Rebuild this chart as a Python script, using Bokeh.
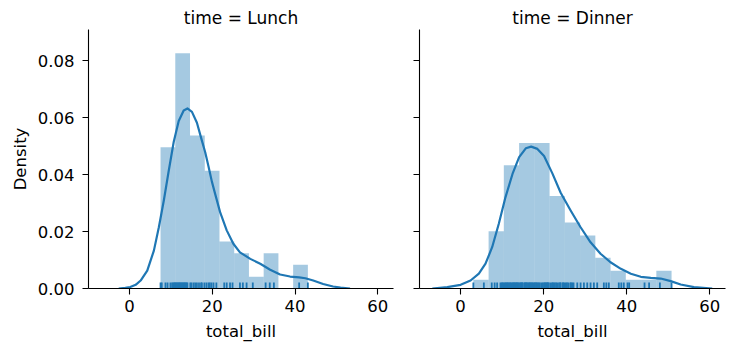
from bokeh.plotting import figure
from bokeh.layouts import row
from bokeh.models import FixedTicker, NumeralTickFormatter, Range1d
from bokeh.embed import file_html
from bokeh.resources import INLINE

# ---------------- data ----------------
panel_titles = ["time = Lunch", "time = Dinner"]

lunch_edges = [7.51, 11.07, 14.63, 18.19, 21.75, 25.31, 28.87, 32.43, 35.99, 39.55, 43.11]
lunch_density = [0.0496, 0.0826, 0.0537, 0.0413, 0.0165, 0.0124, 0.0041, 0.0124, 0.0, 0.0083]

dinner_edges = [3.07, 6.74, 10.41, 14.09, 17.76, 21.43, 25.10, 28.78, 32.45, 36.12,
                39.79, 43.47, 47.14, 50.81]
dinner_density = [0.0031, 0.0201, 0.0433, 0.0511, 0.0511, 0.0325, 0.0232, 0.0186,
                  0.0108, 0.0062, 0.0031, 0.0031, 0.0062]

lunch_kde_x = [-2.6, -1.0, 0.2, 1.5, 2.7, 4.3, 5.9, 7.1, 8.3, 9.5, 10.7, 11.9, 13.1, 14.0,
               15.1, 16.3, 17.5, 18.3, 19.1, 19.9, 20.7, 21.9, 23.5, 25.1, 26.7, 29.2,
               31.6, 34.0, 36.4, 38.8, 41.0, 42.5, 44.4, 46.8, 49.2, 51.0, 53.3]
lunch_kde_y = [0.0, 0.0002, 0.0005, 0.0013, 0.0028, 0.0063, 0.0133, 0.0215, 0.0309,
               0.0414, 0.0515, 0.0588, 0.0625, 0.0632, 0.0620, 0.0582, 0.0519, 0.0478,
               0.0428, 0.0376, 0.0332, 0.0268, 0.0204, 0.0157, 0.0127, 0.0104, 0.0087,
               0.0066, 0.0049, 0.0042, 0.0039, 0.0036, 0.0028, 0.0016, 0.0007, 0.0003, 0.0]

dinner_kde_x = [-6.8, -3.2, 0.0, 2.4, 4.4, 6.0, 7.6, 9.2, 10.8, 12.5, 14.1, 15.7, 17.0,
                18.5, 20.1, 22.1, 24.1, 26.5, 28.9, 31.3, 33.7, 36.1, 38.6, 41.0, 43.4,
                45.8, 48.2, 50.6, 53.0, 56.2, 60.6]
dinner_kde_y = [0.0, 0.0005, 0.0013, 0.0028, 0.0052, 0.0087, 0.0145, 0.0227, 0.0320,
                0.0402, 0.0461, 0.0492, 0.0498, 0.0490, 0.0465, 0.0404, 0.0336, 0.0274,
                0.0215, 0.0162, 0.0122, 0.0092, 0.0069, 0.0052, 0.0041, 0.0037, 0.0035,
                0.0026, 0.0014, 0.0005, 0.0]

lunch_rug = [7.51, 7.8, 8.7, 9.2, 9.9, 10.3, 10.6, 10.8, 11.0, 11.2, 11.4, 11.6, 11.8,
             12.0, 12.2, 12.4, 12.6, 12.8, 13.0, 13.2, 13.4, 13.6, 13.8, 14.0, 14.7,
             15.0, 15.5, 15.9, 16.3, 16.8, 17.3, 17.5, 18.1, 18.6, 19.1, 19.4, 19.8,
             20.3, 21.0, 22.9, 23.5, 24.3, 24.9, 26.7, 27.4, 28.3, 29.8, 32.9, 33.9,
             34.9, 41.0, 43.11]

dinner_rug = [3.07, 5.6, 7.5, 8.2, 8.8, 9.6, 9.9, 10.1, 10.3, 10.6, 10.8, 11.0, 11.2,
              11.4, 11.6, 11.9, 12.0, 12.3, 12.5, 12.7, 12.9, 13.0, 13.3, 13.4, 13.6,
              13.8, 14.0, 14.3, 14.5, 14.7, 14.8, 15.0, 15.4, 15.5, 15.7, 15.9, 16.0,
              16.3, 16.5, 16.7, 16.9, 17.1, 17.3, 17.5, 17.8, 17.9, 18.2, 18.3, 18.6,
              18.8, 19.1, 19.5, 19.8, 20.1, 20.3, 20.5, 20.7, 20.9, 21.0, 21.2, 21.6,
              22.0, 22.2, 22.4, 22.7, 23.0, 23.3, 23.7, 24.0, 24.1, 24.6, 24.7, 25.0,
              25.3, 25.6, 25.9, 26.4, 26.6, 26.9, 27.2, 28.1, 28.9, 29.7, 30.5, 31.3,
              32.1, 32.9, 34.5, 35.1, 35.7, 38.1, 38.7, 39.3, 40.2, 40.6, 44.3, 45.4,
              48.0, 50.81]

x_ticks = [0, 20, 40, 60]
y_ticks = [0.0, 0.02, 0.04, 0.06, 0.08]

BLUE = "#1f77b4"
FONT = "DejaVu Sans"
X_RANGE = (-9.9, 63.8)
Y_RANGE = (0.0, 0.0909)
RUG_H = 0.0021


def make_panel(title, edges, density, kx, ky, rug, first):
    p = figure(frame_width=305 if first else 306, frame_height=259,
               output_backend="svg", toolbar_location=None,
               min_border_left=88 if first else 14,
               min_border_right=12 if first else 8,
               min_border_top=29, min_border_bottom=60, title=title)
    p.x_range = Range1d(*X_RANGE)
    p.y_range = Range1d(*Y_RANGE)
    p.outline_line_color = None
    p.grid.visible = False
    p.background_fill_color = "white"
    p.border_fill_color = "white"

    p.title.align = "center"
    p.title.vertical_align = "top"
    p.title.text_font = FONT
    p.title.text_font_size = "17px"
    p.title.text_font_style = "normal"
    p.title.text_color = "#000000"
    p.title.standoff = 0

    p.quad(left=edges[:-1], right=edges[1:], bottom=0, top=density,
           fill_color=BLUE, fill_alpha=0.4, line_color=BLUE, line_alpha=0.0)
    p.line(kx, ky, line_color=BLUE, line_width=2.2, line_join="round")
    p.segment(x0=rug, x1=rug, y0=[0] * len(rug), y1=[RUG_H] * len(rug),
              line_color=BLUE, line_width=1.8)

    for ax in (p.xaxis[0], p.yaxis[0]):
        ax.axis_line_color = "black"
        ax.axis_line_width = 1.1
        ax.major_tick_line_color = "black"
        ax.major_tick_line_width = 1.1
        ax.major_tick_out = 6
        ax.major_tick_in = 0
        ax.minor_tick_line_color = None
        ax.major_label_text_font = FONT
        ax.major_label_text_font_size = "16.5px"
        ax.major_label_text_color = "#000000"
        ax.axis_label_text_font = FONT
        ax.axis_label_text_font_size = "16.5px"
        ax.axis_label_text_font_style = "normal"
        ax.axis_label_text_color = "#000000"

    p.xaxis.ticker = FixedTicker(ticks=x_ticks)
    p.xaxis.axis_label = "total_bill"
    p.xaxis.major_label_standoff = 5
    p.xaxis.axis_label_standoff = 7

    p.yaxis.ticker = FixedTicker(ticks=y_ticks)
    p.yaxis.formatter = NumeralTickFormatter(format="0.00")
    if first:
        p.yaxis.axis_label = "Density"
        p.yaxis.major_label_standoff = 8
        p.yaxis.axis_label_standoff = 5
    else:
        p.yaxis.major_label_text_font_size = "0px"
        p.yaxis.major_label_text_color = None
        p.yaxis.major_label_standoff = 0
    return p


p1 = make_panel(panel_titles[0], lunch_edges, lunch_density, lunch_kde_x, lunch_kde_y,
                lunch_rug, True)
p2 = make_panel(panel_titles[1], dinner_edges, dinner_density, dinner_kde_x, dinner_kde_y,
                dinner_rug, False)

layout = row(p1, p2)
open("out.html", "w").write(file_html(layout, INLINE))
